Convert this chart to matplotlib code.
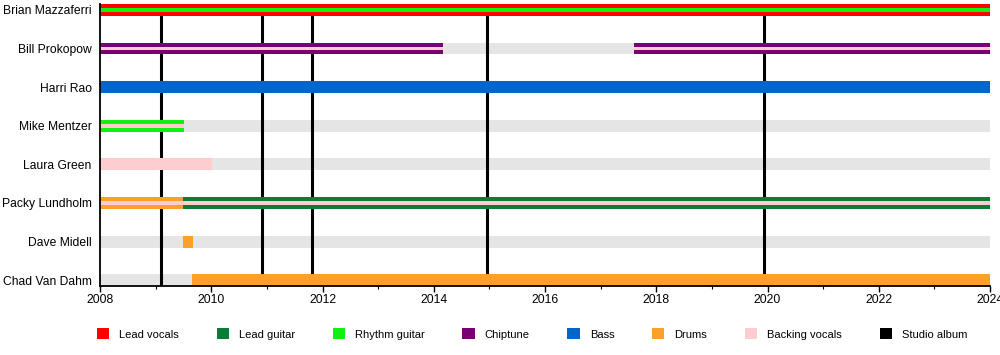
import matplotlib
matplotlib.use("Agg")

import matplotlib.pyplot as plt
from matplotlib.patches import Patch
from matplotlib.ticker import MultipleLocator

plt.rcParams["font.family"] = ["Liberation Sans", "DejaVu Sans"]

# band members, top to bottom
members = ["Brian Mazzaferri", "Bill Prokopow", "Harri Rao", "Mike Mentzer",
           "Laura Green", "Packy Lundholm", "Dave Midell", "Chad Van Dahm"]

# active spans: member, start, end, main role, inner stripe role (or None)
span_member = ["Brian Mazzaferri", "Bill Prokopow", "Bill Prokopow", "Harri Rao",
               "Mike Mentzer", "Laura Green", "Packy Lundholm", "Packy Lundholm",
               "Dave Midell", "Chad Van Dahm"]
span_start = [2008.0, 2008.0, 2017.6, 2008.0, 2008.0, 2008.0, 2008.0, 2009.5, 2009.5, 2009.66]
span_end = [2024.0, 2014.17, 2024.0, 2024.0, 2009.51, 2010.02, 2009.5, 2024.0, 2009.68, 2024.0]
span_role = ["Lead vocals", "Chiptune", "Chiptune", "Bass", "Rhythm guitar",
             "Backing vocals", "Drums", "Lead guitar", "Drums", "Drums"]
span_stripe = ["Rhythm guitar", "Backing vocals", "Backing vocals", None, "Backing vocals",
               None, "Backing vocals", "Backing vocals", None, None]

# studio album release dates
albums = [2009.10, 2010.91, 2011.81, 2014.96, 2019.94]

roles = ["Lead vocals", "Lead guitar", "Rhythm guitar", "Chiptune",
         "Bass", "Drums", "Backing vocals"]
role_colors = {
    "Lead vocals": "#ff0000",
    "Lead guitar": "#0b7b35",
    "Rhythm guitar": "#11f011",
    "Chiptune": "#770072",
    "Bass": "#0066cc",
    "Drums": "#fba12a",
    "Backing vocals": "#ffcdd0",
}
inactive = "#e5e5e5"
start_year, end_year = 2008, 2024

fig = plt.figure(figsize=(10, 3.55), dpi=100)
ax = fig.add_axes([0.1, 0.194, 0.89, 0.795])

bar_h = 0.31
row = {m: i for i, m in enumerate(members)}

# grey background for everyone (periods outside the band)
ax.barh(range(len(members)), end_year - start_year, left=start_year,
        height=bar_h, color=inactive, zorder=1)

# album lines sit between the grey and the coloured bars
for a in albums:
    ax.axvline(a, color="black", linewidth=2.2, zorder=2)

for m, s, e, r, st in zip(span_member, span_start, span_end, span_role, span_stripe):
    y = row[m]
    ax.barh(y, e - s, left=s, height=bar_h, color=role_colors[r], zorder=3)
    if st:
        ax.barh(y, e - s, left=s, height=bar_h / 3, color=role_colors[st], zorder=4)

ax.set_ylim(len(members) - 1 + bar_h / 2, -bar_h / 2)
ax.set_xlim(start_year, end_year)
ax.set_yticks(range(len(members)))
ax.set_yticklabels(members, fontsize=8.7)
ax.tick_params(axis="y", length=0, pad=6)
ax.xaxis.set_major_locator(MultipleLocator(2))
ax.xaxis.set_minor_locator(MultipleLocator(1))
ax.tick_params(axis="x", which="major", length=4, width=1, labelsize=8.7, pad=2)
ax.tick_params(axis="x", which="minor", length=2.5, width=0.8)

for side in ("top", "right"):
    ax.spines[side].set_visible(False)
for side in ("left", "bottom"):
    ax.spines[side].set_linewidth(1.3)
    ax.spines[side].set_zorder(5)

handles = [Patch(facecolor=role_colors[r], label=r) for r in roles]
handles.append(Patch(facecolor="black", label="Studio album"))
fig.legend(handles=handles, loc="center", bbox_to_anchor=(0.532, 0.059),
           ncol=len(handles), frameon=False, fontsize=8,
           handlelength=1.1, handleheight=1.1, handletextpad=0.9,
           columnspacing=3.4)

fig.savefig("out.png", dpi=100)
plt.close(fig)
